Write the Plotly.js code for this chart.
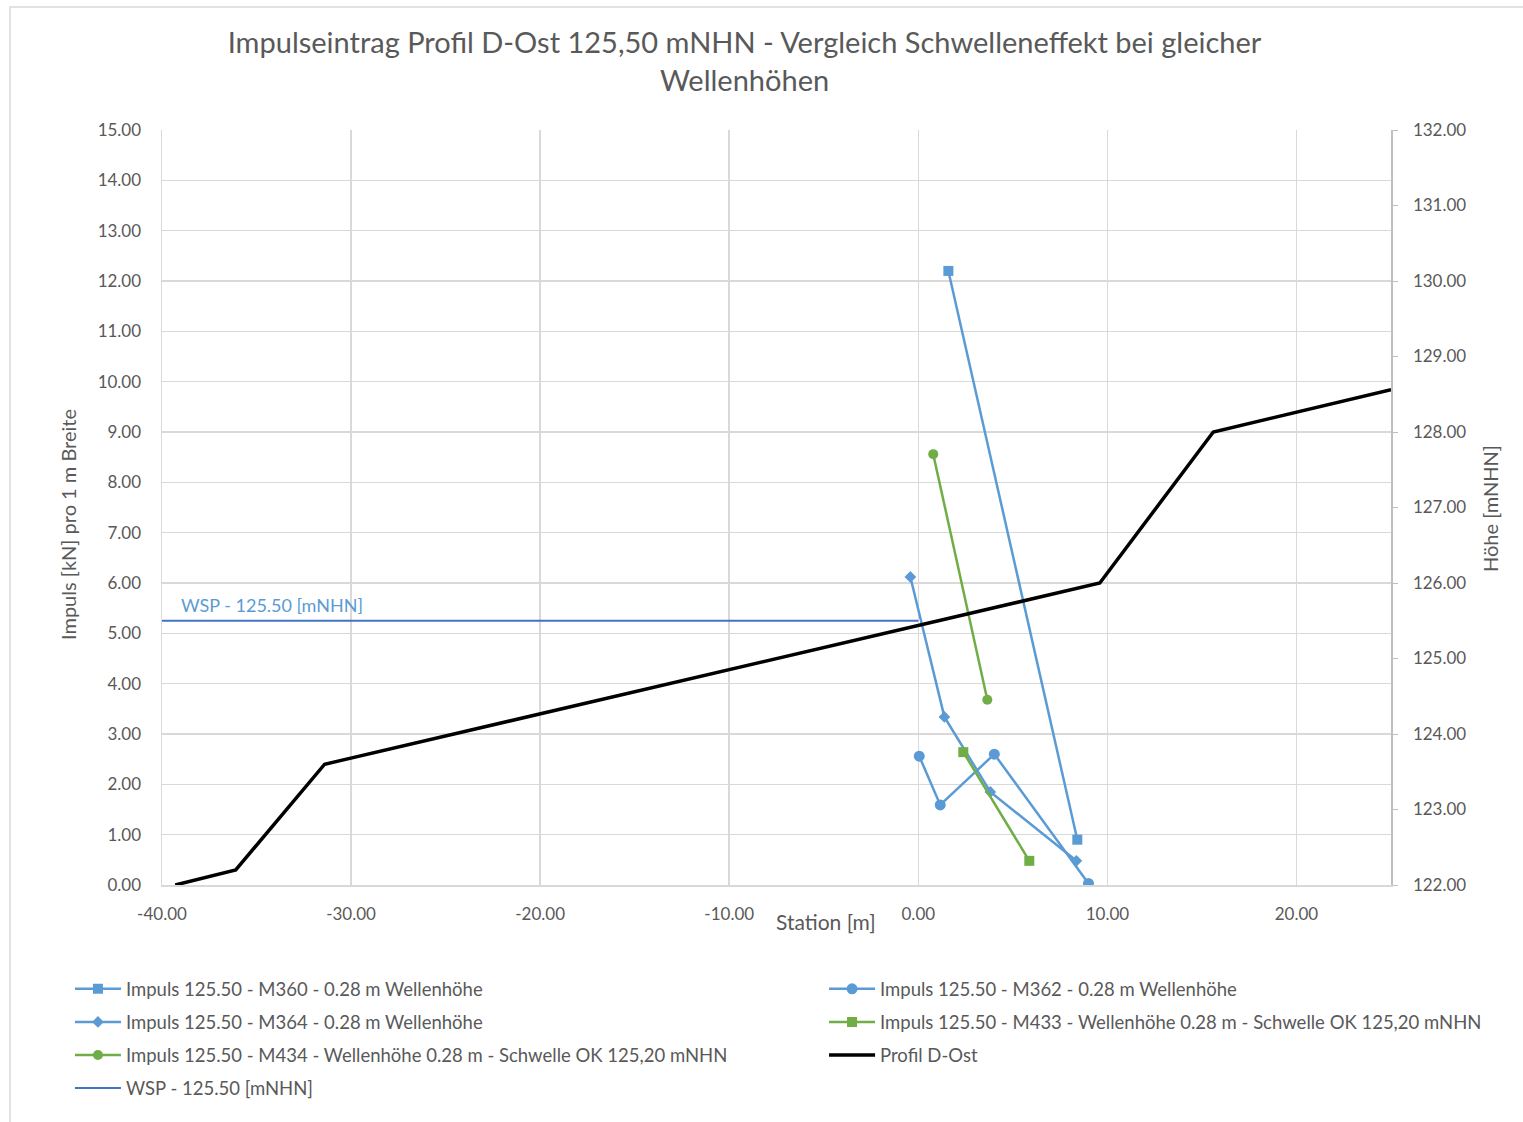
<!DOCTYPE html>
<html>
<head>
<meta charset="utf-8">
<script src="https://cdn.plot.ly/plotly-3.0.1.min.js"></script>
<style>html,body{margin:0;padding:0;background:#fff;}#chart{width:1523px;height:1122px;}</style>
</head>
<body>
<div id="chart"></div>
<script>
// ---- data ----
const m360X = [1.59, 8.41];
const m360Y = [12.2, 0.9];
const m362X = [0.05, 1.16, 4.02, 9.0];
const m362Y = [2.56, 1.59, 2.60, 0.03];
const m364X = [-0.42, 1.38, 3.81, 8.36];
const m364Y = [6.12, 3.34, 1.85, 0.48];
const m433X = [2.38, 5.87];
const m433Y = [2.64, 0.48];
const m434X = [0.79, 3.65];
const m434Y = [8.56, 3.68];
const profilX = [-39.3, -36.1, -31.4, 9.6, 15.6, 25.0];
const profilY = [122.0, 122.2, 123.6, 126.0, 128.0, 128.56];
const wspX = [-40, 0];
const wspY = [125.5, 125.5];

// tick labels
const xTickVals = [-40, -30, -20, -10, 0, 10, 20];
const xTickText = ['-40.00', '-30.00', '-20.00', '-10.00', '0.00', '10.00', '20.00'];

const names = {
  m360: 'Impuls 125.50 - M360 - 0.28 m Wellenhöhe',
  m362: 'Impuls 125.50 - M362 - 0.28 m Wellenhöhe',
  m364: 'Impuls 125.50 - M364 - 0.28 m Wellenhöhe',
  m433: 'Impuls 125.50 - M433 - Wellenhöhe 0.28 m - Schwelle OK 125,20 mNHN',
  m434: 'Impuls 125.50 - M434 - Wellenhöhe 0.28 m - Schwelle OK 125,20 mNHN',
  profil: 'Profil D-Ost',
  wsp: 'WSP - 125.50 [mNHN]'
};

const BLUE = '#5B9BD5', GREEN = '#70AD47', TXT = '#595959', GRID = '#D9D9D9';
const FONT = 'Lato, "Open Sans", sans-serif';

const traces = [
  {x: profilX, y: profilY, yaxis: 'y2', name: names.profil, mode: 'lines',
   line: {color: '#000000', width: 3.5}, legend: 'legend2', legendgroup: 'g6', legendrank: 3},
  {x: wspX, y: wspY, yaxis: 'y2', name: names.wsp, mode: 'lines',
   line: {color: '#4472C4', width: 2}, legend: 'legend', legendgroup: 'g7', legendrank: 4},
  {x: m360X, y: m360Y, name: names.m360, mode: 'lines+markers',
   line: {color: BLUE, width: 2.5}, marker: {symbol: 'square', size: 10, color: BLUE},
   legend: 'legend', legendgroup: 'g1', legendrank: 1},
  {x: m362X, y: m362Y, name: names.m362, mode: 'lines+markers',
   line: {color: BLUE, width: 2.5}, marker: {symbol: 'circle', size: 11, color: BLUE},
   legend: 'legend2', legendgroup: 'g2', legendrank: 1},
  {x: m364X, y: m364Y, name: names.m364, mode: 'lines+markers',
   line: {color: BLUE, width: 2.5}, marker: {symbol: 'diamond', size: 9, color: BLUE},
   legend: 'legend', legendgroup: 'g3', legendrank: 2},
  {x: m433X, y: m433Y, name: names.m433, mode: 'lines+markers',
   line: {color: GREEN, width: 2.5}, marker: {symbol: 'square', size: 10, color: GREEN},
   legend: 'legend2', legendgroup: 'g4', legendrank: 2},
  {x: m434X, y: m434Y, name: names.m434, mode: 'lines+markers',
   line: {color: GREEN, width: 2.5}, marker: {symbol: 'circle', size: 10, color: GREEN},
   legend: 'legend', legendgroup: 'g5', legendrank: 3}
];

const legendCommon = {
  orientation: 'v', yanchor: 'top', xanchor: 'left', bgcolor: 'rgba(0,0,0,0)',
  font: {family: FONT, size: 18.5, color: TXT}, tracegroupgap: 6, itemwidth: 46,
  traceorder: 'grouped'
};

const layout = {
  width: 1523, height: 1122,
  paper_bgcolor: '#ffffff', plot_bgcolor: '#ffffff',
  font: {family: FONT, color: TXT},
  margin: {l: 162, r: 132, t: 130, b: 237},
  title: {
    text: 'Impulseintrag Profil D-Ost 125,50 mNHN - Vergleich Schwelleneffekt bei gleicher<br>Wellenhöhen',
    font: {family: FONT, size: 29, color: TXT},
    xref: 'paper', x: 0.474, xanchor: 'center', yref: 'container', y: 1 - 53 / 1122, yanchor: 'middle'
  },
  xaxis: {
    range: [-40, 25], tickmode: 'array', tickvals: xTickVals, ticktext: xTickText,
    showgrid: true, gridcolor: GRID, gridwidth: 1.5, zeroline: false,
    showline: true, linecolor: GRID, linewidth: 2, ticks: '',
    tickfont: {family: FONT, size: 17, color: TXT}, ticklabelstandoff: 13
  },
  yaxis: {
    range: [0, 15], dtick: 1, tick0: 0, tickformat: '.2f',
    showgrid: true, gridcolor: GRID, gridwidth: 1.5, zeroline: false,
    showline: true, linecolor: GRID, linewidth: 1.5, ticks: '',
    tickfont: {family: FONT, size: 17, color: TXT}, ticklabelstandoff: 16
  },
  yaxis2: {
    range: [122, 132], dtick: 1, tick0: 122, tickformat: '.2f', overlaying: 'y', side: 'right',
    showgrid: false, zeroline: false, showline: true, linecolor: '#BFBFBF', linewidth: 1.5,
    ticks: 'outside', ticklen: 5, tickcolor: '#BFBFBF',
    tickfont: {family: FONT, size: 17, color: TXT}, ticklabelstandoff: 12
  },
  legend: Object.assign({}, legendCommon, {x: -0.0749, y: -0.113}),
  legend2: Object.assign({}, legendCommon, {x: 0.5387, y: -0.113}),
  annotations: [
    {text: 'Station [m]', xref: 'paper', yref: 'paper', x: 0.540, y: (885 - 922) / 755,
     xanchor: 'center', yanchor: 'middle',
     showarrow: false, font: {family: FONT, size: 21, color: TXT}},
    {text: 'Impuls [kN] pro 1 m Breite', xref: 'paper', yref: 'paper', x: (68 - 162) / 1229, y: (885 - 525) / 755,
     xanchor: 'center', yanchor: 'middle',
     textangle: -90, showarrow: false, font: {family: FONT, size: 20, color: TXT}},
    {text: 'Höhe [mNHN]', xref: 'paper', yref: 'paper', x: (1490 - 162) / 1229, y: (885 - 508) / 755,
     xanchor: 'center', yanchor: 'middle',
     textangle: -90, showarrow: false, font: {family: FONT, size: 20, color: TXT}},
    {text: 'WSP - 125.50 [mNHN]', xref: 'x', yref: 'y2', x: -39.1, y: 125.5, xanchor: 'left', yanchor: 'bottom',
     yshift: 3, showarrow: false, font: {family: FONT, size: 18, color: BLUE}}
  ],
  shapes: [
    {type: 'rect', xref: 'paper', yref: 'paper', x0: (10 - 162) / 1229, x1: (1545 - 162) / 1229,
     y0: (885 - 1145) / 755, y1: (885 - 7) / 755, line: {color: '#D9D9D9', width: 1.5}, layer: 'below'}
  ]
};

Plotly.newPlot('chart', traces, layout, {displayModeBar: false, staticPlot: true});
</script>
</body>
</html>
